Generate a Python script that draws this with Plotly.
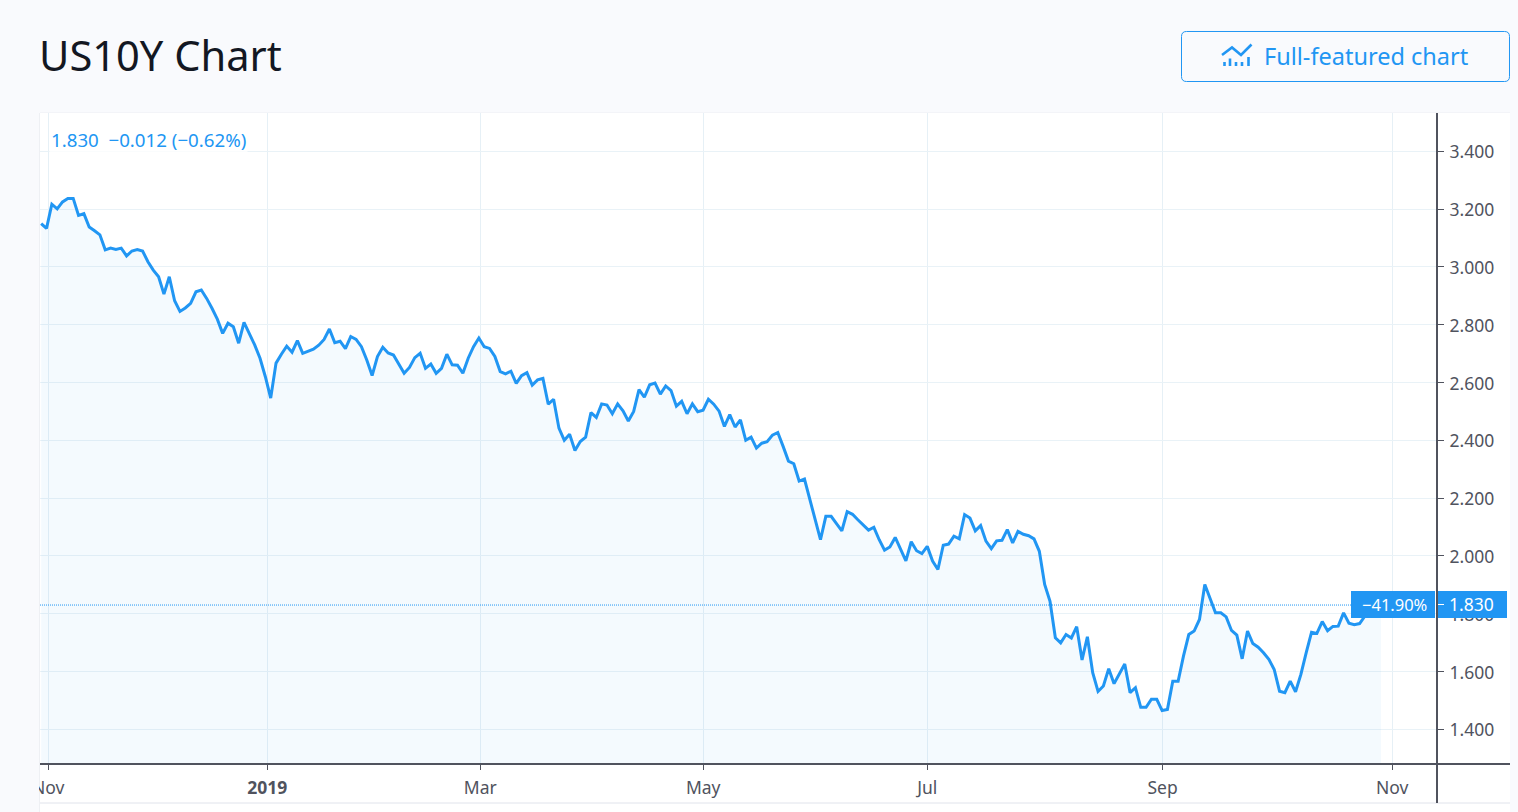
import plotly.graph_objects as go

W, H = 1518, 812

yield_values = [
    3.150, 3.133, 3.217, 3.201, 3.225, 3.237, 3.237, 3.178, 3.184, 3.138, 3.125, 3.111,
    3.059, 3.065, 3.060, 3.065, 3.038, 3.055, 3.060, 3.055, 3.018, 2.989, 2.966, 2.906,
    2.966, 2.883, 2.846, 2.858, 2.874, 2.914, 2.920, 2.891, 2.857, 2.819, 2.770, 2.805,
    2.793, 2.736, 2.808, 2.770, 2.730, 2.684, 2.620, 2.546, 2.667, 2.698, 2.726, 2.705,
    2.745, 2.701, 2.707, 2.715, 2.729, 2.749, 2.785, 2.738, 2.743, 2.717, 2.759, 2.749,
    2.724, 2.678, 2.624, 2.690, 2.722, 2.702, 2.695, 2.664, 2.632, 2.652, 2.686, 2.701,
    2.649, 2.664, 2.632, 2.649, 2.698, 2.661, 2.660, 2.632, 2.684, 2.724, 2.754, 2.724,
    2.718, 2.690, 2.638, 2.630, 2.639, 2.597, 2.624, 2.634,
    2.591, 2.609, 2.614, 2.525, 2.542, 2.442, 2.400, 2.421, 2.365, 2.396, 2.411, 2.496,
    2.479, 2.526, 2.522, 2.492, 2.526, 2.502, 2.467, 2.500, 2.575, 2.549, 2.592, 2.598,
    2.560, 2.588, 2.572, 2.518, 2.535, 2.492, 2.526, 2.499, 2.504, 2.542, 2.525, 2.501,
    2.448, 2.489, 2.446, 2.471, 2.400, 2.411, 2.373, 2.390, 2.395, 2.418, 2.427, 2.379,
    2.328, 2.319, 2.259, 2.266, 2.194, 2.125, 2.056, 2.137, 2.137, 2.112, 2.087, 2.153,
    2.144, 2.125, 2.107, 2.089, 2.099, 2.056, 2.020, 2.031, 2.064, 2.024, 1.983, 2.049,
    2.018, 2.008, 2.033, 1.982, 1.953, 2.037, 2.041, 2.068, 2.059, 2.143, 2.131, 2.087,
    2.105, 2.051, 2.025, 2.052,
    2.054, 2.091, 2.045, 2.085, 2.075, 2.070, 2.059, 2.016, 1.901, 1.843, 1.717, 1.699,
    1.728, 1.716, 1.755, 1.640, 1.720, 1.596, 1.531, 1.550, 1.610, 1.558, 1.594, 1.626,
    1.527, 1.544, 1.476, 1.476, 1.504, 1.504, 1.465, 1.469, 1.566, 1.566, 1.653, 1.728,
    1.740, 1.780, 1.901, 1.855, 1.803, 1.803, 1.789, 1.742, 1.726, 1.644, 1.740, 1.697,
    1.684, 1.665, 1.642, 1.607, 1.532, 1.527, 1.567, 1.530, 1.590, 1.665, 1.736, 1.732,
    1.773, 1.741, 1.756, 1.757, 1.803, 1.767, 1.762, 1.766, 1.792, 1.825, 1.842, 1.830,
]
sessions = list(range(len(yield_values)))

x_tick_sessions = [1.33, 42.36, 82.26, 124.03, 165.99, 210.1, 253.1]
x_tick_labels = ["Nov", "<b>2019</b>", "Mar", "May", "Jul", "Sep", "Nov"]
y_tick_values = [1.4, 1.6, 1.8, 2.0, 2.2, 2.4, 2.6, 2.8, 3.0, 3.2, 3.4]
y_tick_labels = ["1.400", "1.600", "1.800", "2.000", "2.200", "2.400", "2.600", "2.800", "3.000", "3.200", "3.400"]

TITLE = "US10Y Chart"
BUTTON = "Full-featured chart"
HEADER = "1.830  \u22120.012 (\u22120.62%)"
LAST_VALUE = 1.830
LAST_PCT = "\u221241.90%"
LAST_TXT = "1.830"

BLUE = "#2196f3"
AXIS = "#50535e"
GRID = "#e9f2f7"
BG = "#f9fafd"
FONT = "Noto Sans"


def fx(p):
    return p / W


def fy(p):
    return 1 - p / H


def rect(x0, y0, x1, y1, fill, layer="above"):
    return dict(type="rect", xref="paper", yref="paper", x0=fx(x0), x1=fx(x1), y0=fy(y0), y1=fy(y1),
                fillcolor=fill, line_width=0, layer=layer)


def seg(x0, y0, x1, y1, color, width=1, layer="above"):
    return dict(type="line", xref="paper", yref="paper", x0=fx(x0), x1=fx(x1), y0=fy(y0), y1=fy(y1),
                line=dict(color=color, width=width), layer=layer)


def path(points):
    return "M " + " L ".join(f"{fx(a):.5f},{fy(b):.5f}" for a, b in points)


def rounded(x0, y0, x1, y1, r):
    p = lambda a, b: f"{fx(a):.5f},{fy(b):.5f}"
    return (f"M {p(x0 + r, y0)} L {p(x1 - r, y0)} Q {p(x1, y0)} {p(x1, y0 + r)} "
            f"L {p(x1, y1 - r)} Q {p(x1, y1)} {p(x1 - r, y1)} "
            f"L {p(x0 + r, y1)} Q {p(x0, y1)} {p(x0, y1 - r)} "
            f"L {p(x0, y0 + r)} Q {p(x0, y0)} {p(x0 + r, y0)} Z")


def label(x, y, text, size, color, anchor="left", **kw):
    return dict(xref="paper", yref="paper", x=fx(x), y=fy(y), text=text, showarrow=False, xanchor=anchor,
                yanchor="middle", font=dict(family=FONT, size=size, color=color), **kw)


fig = go.Figure()
fig.add_trace(go.Scatter(
    x=sessions, y=yield_values, mode="lines", fill="tozeroy",
    line=dict(color=BLUE, width=3, shape="linear"),
    fillcolor="rgba(33,150,243,0.05)", hoverinfo="skip", showlegend=False,
))

shapes = [
    rect(40, 113, 1510, 812, "white", "below"),
    seg(39.5, 113, 39.5, 812, "#eef0f4", 1, "below"),
    seg(40, 112.5, 1510, 112.5, "#f3f4f8", 1, "below"),
    rect(0, 770, 39, 812, BG),
    seg(40, 803, 1510, 803, "#e0e3eb"),
    seg(40, 764, 1510, 764, AXIS, 2),
    seg(1437, 113, 1437, 803, AXIS, 2),
    dict(type="line", xref="paper", yref="y", x0=fx(40), x1=fx(1351), y0=LAST_VALUE, y1=LAST_VALUE,
         line=dict(color=BLUE, width=1, dash="1px,1px"), layer="above"),
    rect(1351, 591, 1435, 618, BLUE),
    rect(1438, 591, 1507, 618, BLUE),
    seg(1438, 604.5, 1444, 604.5, "white", 1),
    dict(type="path", xref="paper", yref="paper", path=rounded(1181.5, 31.5, 1509.5, 81.5, 5),
         line=dict(color=BLUE, width=1), fillcolor="rgba(0,0,0,0)", layer="above"),
    dict(type="path", xref="paper", yref="paper",
         path=path([(1222, 55), (1232, 47.5), (1241, 55), (1251.5, 44.5)]),
         line=dict(color=BLUE, width=2.6), fillcolor="rgba(0,0,0,0)", layer="above"),
]
for bx, top in [(1224.5, 62), (1230, 58.5), (1236, 62), (1242, 62), (1248.5, 57)]:
    shapes.append(rect(bx - 1.3, top, bx + 1.3, 66, BLUE))

annotations = [
    label(36.5, 55, TITLE, 41.6, "#131722"),
    label(1262, 56, BUTTON, 23.5, BLUE),
    label(49, 139, HEADER, 18.7, BLUE, bgcolor="rgba(255,255,255,0.75)"),
    label(1429, 604, LAST_PCT, 16.5, "white", anchor="right"),
    label(1496, 604, LAST_TXT, 17.5, "white", anchor="right"),
]

fig.update_layout(
    width=W, height=H, autosize=False,
    margin=dict(l=0, r=0, t=0, b=0, autoexpand=False),
    paper_bgcolor=BG, plot_bgcolor="rgba(0,0,0,0)",
    font=dict(family=FONT, color=AXIS, size=17.5),
    shapes=shapes, annotations=annotations,
    xaxis=dict(
        domain=[fx(40), fx(1437)], range=[-0.22, 261.5], tickmode="array", automargin=False,
        tickvals=x_tick_sessions, ticktext=x_tick_labels, showgrid=True, gridcolor="#e6f0f6", gridwidth=1,
        ticks="outside", ticklen=5, tickcolor=AXIS, tickfont=dict(family=FONT, size=17.5, color=AXIS),
        ticklabelstandoff=3, showline=False, zeroline=False, anchor="y",
    ),
    yaxis=dict(
        domain=[fy(764), fy(113)], range=[1.280, 3.5325], tickmode="array", automargin=False,
        tickvals=y_tick_values, ticktext=y_tick_labels, side="right", showgrid=True, gridcolor=GRID, gridwidth=1,
        ticks="outside", ticklen=6, tickcolor=AXIS, tickfont=dict(family=FONT, size=17.5, color=AXIS),
        ticklabelstandoff=2, ticklabelshift=1, showline=False, zeroline=False, anchor="x",
    ),
)

fig.write_html("out.html", config={"displayModeBar": False},
               post_script="document.body.style.margin='0';document.body.style.overflow='hidden';")
